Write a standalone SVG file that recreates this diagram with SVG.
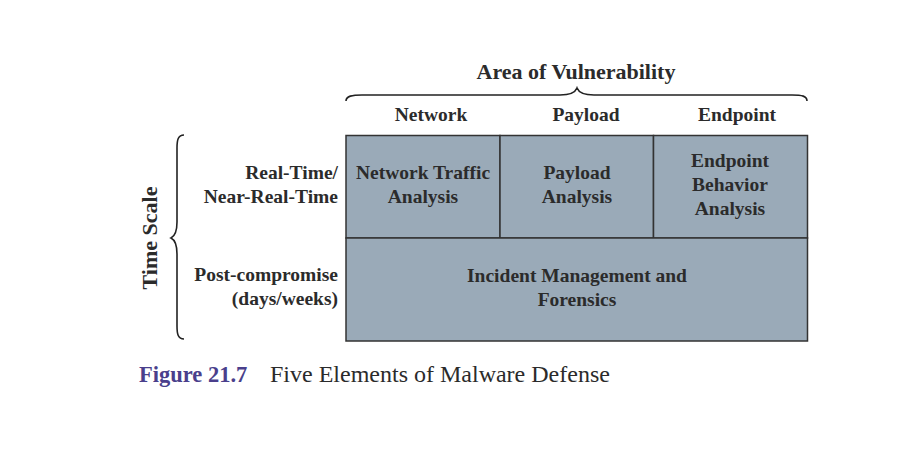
<svg xmlns="http://www.w3.org/2000/svg" width="917" height="474" viewBox="0 0 917 474">
  <style>
    .t { font-family: "Liberation Serif", "Times New Roman", serif; fill: #2b2b2b; }
    .b { font-weight: bold; }
    .h { font-size: 22px; }
    .m { font-size: 19.5px; }
    .cell { fill: #9aaab8; stroke: #333; stroke-width: 1.5; }
    .brace { fill: none; stroke: #222; stroke-width: 1.6; }
  </style>
  <rect width="917" height="474" fill="#ffffff"/>

  <!-- column header -->
  <g id="area-header">
    <text class="t b h" x="576" y="79" text-anchor="middle">Area of Vulnerability</text>
    <path class="brace" d="M346,101 C346,96 352,95 362,95 L560,95 C570,95 575,93 577,88 C579,93 584,95 594,95 L792,95 C802,95 807,96 807,101"/>
    <text class="t b m" x="431" y="121" text-anchor="middle">Network</text>
    <text class="t b m" x="586" y="121" text-anchor="middle">Payload</text>
    <text class="t b m" x="737" y="121" text-anchor="middle">Endpoint</text>
  </g>

  <!-- row header -->
  <g id="time-header">
    <text class="t b h" transform="translate(157,238) rotate(-90)" text-anchor="middle">Time Scale</text>
    <path class="brace" d="M184,135 C178,135 177,140 177,148 L177,222 C177,232 175,236 171,238 C175,240 177,244 177,254 L177,326 C177,334 178,339 184,339"/>
    <text class="t b m" x="338" y="179" text-anchor="end">Real-Time/</text>
    <text class="t b m" x="338" y="203" text-anchor="end">Near-Real-Time</text>
    <text class="t b m" x="338" y="281" text-anchor="end">Post-compromise</text>
    <text class="t b m" x="338" y="305" text-anchor="end">(days/weeks)</text>
  </g>

  <!-- grid cells -->
  <g id="network-traffic">
    <rect class="cell" x="346" y="135.5" width="154" height="102.5"/>
    <text class="t b m" x="423" y="179" text-anchor="middle">Network Traffic</text>
    <text class="t b m" x="423" y="203" text-anchor="middle">Analysis</text>
  </g>
  <g id="payload">
    <rect class="cell" x="500" y="135.5" width="153.5" height="102.5"/>
    <text class="t b m" x="577" y="179" text-anchor="middle">Payload</text>
    <text class="t b m" x="577" y="203" text-anchor="middle">Analysis</text>
  </g>
  <g id="endpoint-behavior">
    <rect class="cell" x="653.5" y="135.5" width="154" height="102.5"/>
    <text class="t b m" x="730" y="167" text-anchor="middle">Endpoint</text>
    <text class="t b m" x="730" y="191" text-anchor="middle">Behavior</text>
    <text class="t b m" x="730" y="215" text-anchor="middle">Analysis</text>
  </g>
  <g id="incident">
    <rect class="cell" x="346" y="238" width="461.5" height="103"/>
    <text class="t b m" x="577" y="282" text-anchor="middle">Incident Management and</text>
    <text class="t b m" x="577" y="306" text-anchor="middle">Forensics</text>
  </g>

  <g id="connectors"></g>

  <!-- caption -->
  <g id="caption">
    <text class="t b" x="139" y="382" style="fill:#4a3f8c;font-size:22.5px">Figure 21.7</text>
    <text class="t" x="270" y="382" style="font-size:24px">Five Elements of Malware Defense</text>
  </g>
</svg>
